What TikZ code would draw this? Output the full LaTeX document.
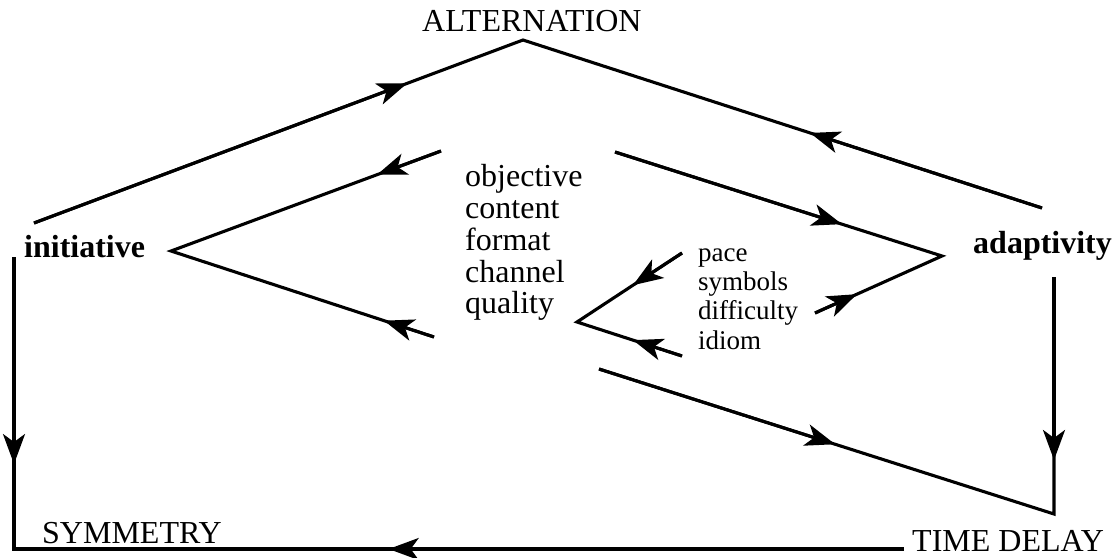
\documentclass[tikz,border=0pt]{standalone}
\usepackage{fontspec}
\setmainfont{Liberation Serif}
\usetikzlibrary{arrows.meta,calc}
\begin{document}
\begin{tikzpicture}[x=1pt,y=-1pt,
  ln/.style={line width=3.1pt},
  tipped/.style={line width=3.1pt,-{Stealth[length=30pt,width=22pt,inset=8pt]}},
  lbl/.style={inner sep=0pt,anchor=base west,font=\fontsize{32}{33}\selectfont},
  blbl/.style={inner sep=0pt,anchor=base west,font=\fontsize{32}{33}\selectfont\bfseries},
  slbl/.style={inner sep=0pt,anchor=base west,font=\fontsize{27}{28}\selectfont}]
\useasboundingbox (0,0) rectangle (1116,557);
% labels
\node[lbl] (alt) at (422,31) {ALTERNATION};
\node[blbl] (ini) at (24,257) {initiative};
\node[blbl] (ada) at (973,253) {adaptivity};
\node[lbl] (sym) at (42,543) {SYMMETRY};
\node[lbl] (td) at (912,551) {TIME DELAY};
\node[lbl] (l1) at (465,186) {objective};
\node[lbl] (l2) at (465,218) {content};
\node[lbl] (l3) at (465,250) {format};
\node[lbl] (l4) at (465,282) {channel};
\node[lbl] (l5) at (465,313) {quality};
\node[slbl] (s1) at (698,261) {pace};
\node[slbl] (s2) at (698,290) {symbols};
\node[slbl] (s3) at (698,319) {difficulty};
\node[slbl] (s4) at (698,349) {idiom};
% points
\coordinate (apex) at (523,40);
\coordinate (oL) at (34,223);
\coordinate (oR) at (1042,208);
\coordinate (vL) at (171,251);
\coordinate (iUL) at (441,151);
\coordinate (iLL) at (434,337);
\coordinate (vR) at (942,256);
\coordinate (iUR) at (615,152);
\coordinate (iLR) at (815,313);
\coordinate (vS) at (577,322);
\coordinate (sU) at (682,253);
\coordinate (sL) at (682,356);
\coordinate (dS) at (599,369);
\coordinate (cR) at (1054,514);
\coordinate (rT) at (1054,277);
\coordinate (lT) at (14,257);
\coordinate (cL) at (14,549);
\coordinate (bE) at (904,549);
% lines
\draw[ln] (oL) -- (apex) -- (oR);
\draw[ln] (iUL) -- (vL) -- (iLL);
\draw[ln] (iUR) -- (vR) -- (iLR);
\draw[ln] (sU) -- (vS) -- (sL);
\draw[ln] (dS) -- (cR) -- (rT);
\draw[ln] (lT) -- (cL) -- (bE);
% arrowheads
\draw[tipped] (oL) -- ($(oL)!0.763!(apex)$);
\draw[tipped] (oR) -- ($(oR)!0.447!(apex)$);
\draw[tipped] (iUL) -- ($(iUL)!0.237!(vL)$);
\draw[tipped] (iLL) -- ($(iLL)!0.19!(vL)$);
\draw[tipped] (iUR) -- ($(iUR)!0.694!(vR)$);
\draw[tipped] (iLR) -- ($(iLR)!0.33!(vR)$);
\draw[tipped] (sU) -- ($(sU)!0.467!(vS)$);
\draw[tipped] (sL) -- ($(sL)!0.467!(vS)$);
\draw[tipped] (dS) -- ($(dS)!0.519!(cR)$);
\draw[tipped] (rT) -- ($(rT)!0.772!(cR)$);
\draw[tipped] (lT) -- ($(lT)!0.709!(cL)$);
\draw[tipped] (bE) -- ($(bE)!0.579!(cL)$);
\end{tikzpicture}
\end{document}
